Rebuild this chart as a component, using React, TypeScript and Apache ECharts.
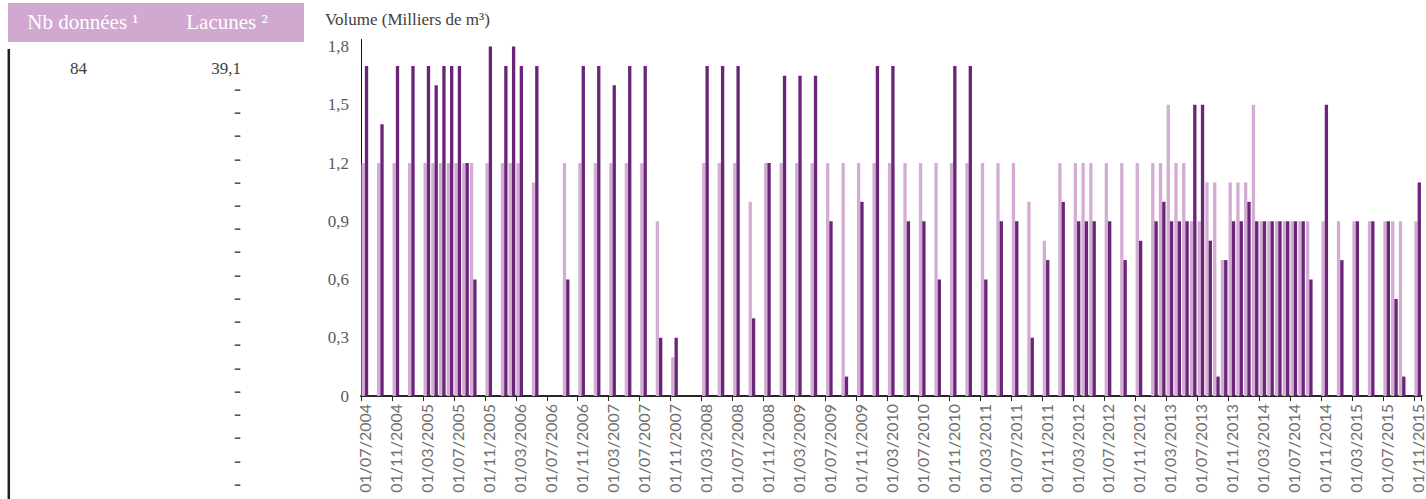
import React, { useEffect, useRef } from "react";
import * as echarts from "echarts";

const N = null;

const categories: string[] = [
  "01/07/2004", "01/08/2004", "01/09/2004", "01/10/2004", "01/11/2004", "01/12/2004",
  "01/01/2005", "01/02/2005", "01/03/2005", "01/04/2005", "01/05/2005", "01/06/2005", "01/07/2005", "01/08/2005", "01/09/2005", "01/10/2005", "01/11/2005", "01/12/2005",
  "01/01/2006", "01/02/2006", "01/03/2006", "01/04/2006", "01/05/2006", "01/06/2006", "01/07/2006", "01/08/2006", "01/09/2006", "01/10/2006", "01/11/2006", "01/12/2006",
  "01/01/2007", "01/02/2007", "01/03/2007", "01/04/2007", "01/05/2007", "01/06/2007", "01/07/2007", "01/08/2007", "01/09/2007", "01/10/2007", "01/11/2007", "01/12/2007",
  "01/01/2008", "01/02/2008", "01/03/2008", "01/04/2008", "01/05/2008", "01/06/2008", "01/07/2008", "01/08/2008", "01/09/2008", "01/10/2008", "01/11/2008", "01/12/2008",
  "01/01/2009", "01/02/2009", "01/03/2009", "01/04/2009", "01/05/2009", "01/06/2009", "01/07/2009", "01/08/2009", "01/09/2009", "01/10/2009", "01/11/2009", "01/12/2009",
  "01/01/2010", "01/02/2010", "01/03/2010", "01/04/2010", "01/05/2010", "01/06/2010", "01/07/2010", "01/08/2010", "01/09/2010", "01/10/2010", "01/11/2010", "01/12/2010",
  "01/01/2011", "01/02/2011", "01/03/2011", "01/04/2011", "01/05/2011", "01/06/2011", "01/07/2011", "01/08/2011", "01/09/2011", "01/10/2011", "01/11/2011", "01/12/2011",
  "01/01/2012", "01/02/2012", "01/03/2012", "01/04/2012", "01/05/2012", "01/06/2012", "01/07/2012", "01/08/2012", "01/09/2012", "01/10/2012", "01/11/2012", "01/12/2012",
  "01/01/2013", "01/02/2013", "01/03/2013", "01/04/2013", "01/05/2013", "01/06/2013", "01/07/2013", "01/08/2013", "01/09/2013", "01/10/2013", "01/11/2013", "01/12/2013",
  "01/01/2014", "01/02/2014", "01/03/2014", "01/04/2014", "01/05/2014", "01/06/2014", "01/07/2014", "01/08/2014", "01/09/2014", "01/10/2014", "01/11/2014", "01/12/2014",
  "01/01/2015", "01/02/2015", "01/03/2015", "01/04/2015", "01/05/2015", "01/06/2015", "01/07/2015", "01/08/2015", "01/09/2015", "01/10/2015", "01/11/2015",
];

// light series (one value per month)
const seriesLight: (number | null)[] = [
  1.2, N, 1.2, N, 1.2, N,
  1.2, N, 1.2, 1.2, 1.2, 1.2, 1.2, 1.2, 1.2, N, 1.2, N,
  1.2, 1.2, 1.2, N, 1.1, N, N, N, 1.2, N, 1.2, N,
  1.2, N, 1.2, N, 1.2, N, 1.2, N, 0.9, N, 0.2, N,
  N, N, 1.2, N, 1.2, N, 1.2, N, 1.0, N, 1.2, N,
  1.2, N, 1.2, N, 1.2, N, 1.2, N, 1.2, N, 1.2, N,
  1.2, N, 1.2, N, 1.2, N, 1.2, N, 1.2, N, 1.2, N,
  1.2, N, 1.2, N, 1.2, N, 1.2, N, 1.0, N, 0.8, N,
  1.2, N, 1.2, 1.2, 1.2, N, 1.2, N, 1.2, N, 1.2, N,
  1.2, 1.2, 1.5, 1.2, 1.2, 0.9, 0.9, 1.1, 1.1, 0.7, 1.1, 1.1,
  1.1, 1.5, 0.9, 0.9, 0.9, 0.9, 0.9, 0.9, 0.9, N, 0.9, N,
  0.9, N, 0.9, N, 0.9, N, 0.9, 0.9, 0.9, N, 0.9,
];

// dark series (one value per month)
const seriesDark: (number | null)[] = [
  1.7, N, 1.4, N, 1.7, N,
  1.7, N, 1.7, 1.6, 1.7, 1.7, 1.7, 1.2, 0.6, N, 1.8, N,
  1.7, 1.8, 1.7, N, 1.7, N, N, N, 0.6, N, 1.7, N,
  1.7, N, 1.6, N, 1.7, N, 1.7, N, 0.3, N, 0.3, N,
  N, N, 1.7, N, 1.7, N, 1.7, N, 0.4, N, 1.2, N,
  1.65, N, 1.65, N, 1.65, N, 0.9, N, 0.1, N, 1.0, N,
  1.7, N, 1.7, N, 0.9, N, 0.9, N, 0.6, N, 1.7, N,
  1.7, N, 0.6, N, 0.9, N, 0.9, N, 0.3, N, 0.7, N,
  1.0, N, 0.9, 0.9, 0.9, N, 0.9, N, 0.7, N, 0.8, N,
  0.9, 1.0, 0.9, 0.9, 0.9, 1.5, 1.5, 0.8, 0.1, 0.7, 0.9, 0.9,
  1.0, 0.9, 0.9, 0.9, 0.9, 0.9, 0.9, 0.9, 0.6, N, 1.5, N,
  0.7, N, 0.9, N, 0.9, N, 0.9, 0.5, 0.1, N, 1.1,
];

const yMin = 0;
const yMax = 1.8;
const yStep = 0.3;

const axisTitle = "Volume (Milliers de m³)";
const tableHeaders = ["Nb données ¹", "Lacunes ²"];
const nbColumn = ["84"];
const lacunesColumn = [
  "39,1", "-", "-", "-", "-", "-", "-", "-", "-", "-",
  "-", "-", "-", "-", "-", "-", "-", "-", "-",
];

const SERIF = "'Liberation Serif', 'Times New Roman', serif";
const SANS = "Lato, 'Open Sans', sans-serif";

export default function App() {
  const ref = useRef<HTMLDivElement>(null);

  useEffect(() => {
    const chart = echarts.init(ref.current!, null, { renderer: "svg" });

    const rowY = (i: number) => (i === 0 ? 68.5 : 88.3 + (i - 1) * 23.24);

    const graphic: any[] = [
      {
        type: "rect",
        shape: { x: 8, y: 3, width: 296, height: 39 },
        style: { fill: "#d1a8d0" },
      },
      {
        type: "text",
        x: 83,
        y: 22,
        style: {
          text: tableHeaders[0],
          fill: "#ffffff",
          font: `21px ${SERIF}`,
          textAlign: "center",
          textVerticalAlign: "middle",
        },
      },
      {
        type: "text",
        x: 227,
        y: 22,
        style: {
          text: tableHeaders[1],
          fill: "#ffffff",
          font: `21px ${SERIF}`,
          textAlign: "center",
          textVerticalAlign: "middle",
        },
      },
      {
        type: "line",
        shape: { x1: 8.8, y1: 49, x2: 8.8, y2: 499 },
        style: { stroke: "#222222", lineWidth: 2.5 },
      },
      {
        type: "line",
        shape: { x1: 361.5, y1: 39, x2: 361.5, y2: 47 },
        style: { stroke: "#111111", lineWidth: 1 },
      },
      {
        type: "text",
        x: 325,
        y: 19,
        style: {
          text: axisTitle,
          fill: "#404040",
          font: `17px ${SERIF}`,
          textAlign: "left",
          textVerticalAlign: "middle",
        },
      },
    ];

    nbColumn.forEach((t, i) => {
      graphic.push({
        type: "text",
        x: 87,
        y: rowY(i),
        style: {
          text: t,
          fill: "#404040",
          font: `17px ${SERIF}`,
          textAlign: "right",
          textVerticalAlign: "middle",
        },
      });
    });
    lacunesColumn.forEach((t, i) => {
      graphic.push({
        type: "text",
        x: 241,
        y: i === 0 ? rowY(i) : rowY(i) - 0.5,
        style: {
          text: t,
          fill: i === 0 ? "#404040" : "#555555",
          font: i === 0 ? `17px ${SERIF}` : `21px ${SERIF}`,
          textAlign: "right",
          textVerticalAlign: "middle",
        },
      });
    });

    chart.setOption({
      animation: false,
      grid: { left: 361, right: 4.5, top: 46.5, bottom: 103, containLabel: false },
      xAxis: {
        type: "category",
        data: categories,
        boundaryGap: true,
        axisLine: { show: true, lineStyle: { color: "#262626", width: 2 } },
        axisTick: { show: true, interval: 3, length: 5, lineStyle: { color: "#262626", width: 1 } },
        axisLabel: {
          interval: 3,
          rotate: 90,
          margin: 8,
          color: "#707070",
          fontFamily: SANS,
          fontSize: 16,
          lineHeight: 15,
        },
        splitLine: { show: false },
      },
      yAxis: {
        type: "value",
        min: yMin,
        max: yMax,
        interval: yStep,
        axisLine: { show: true, lineStyle: { color: "#111111", width: 1 } },
        axisTick: { show: false },
        splitLine: { show: false },
        axisLabel: {
          margin: 12,
          color: "#595959",
          fontFamily: SERIF,
          fontSize: 17,
          formatter: (v: number) => (v === 0 ? "0" : v.toFixed(1).replace(".", ",")),
        },
      },
      series: [
        {
          type: "bar",
          data: seriesLight,
          itemStyle: { color: "#d4add4" },
          barGap: "0%",
          barCategoryGap: "14%",
        },
        {
          type: "bar",
          data: seriesDark,
          itemStyle: { color: "#6a2579" },
          barGap: "0%",
          barCategoryGap: "14%",
        },
      ],
      graphic,
    });

    return () => chart.dispose();
  }, []);

  return (
    <div
      ref={ref}
      style={{ position: "fixed", left: 0, top: 0, width: 1426, height: 499, background: "#ffffff" }}
    />
  );
}
